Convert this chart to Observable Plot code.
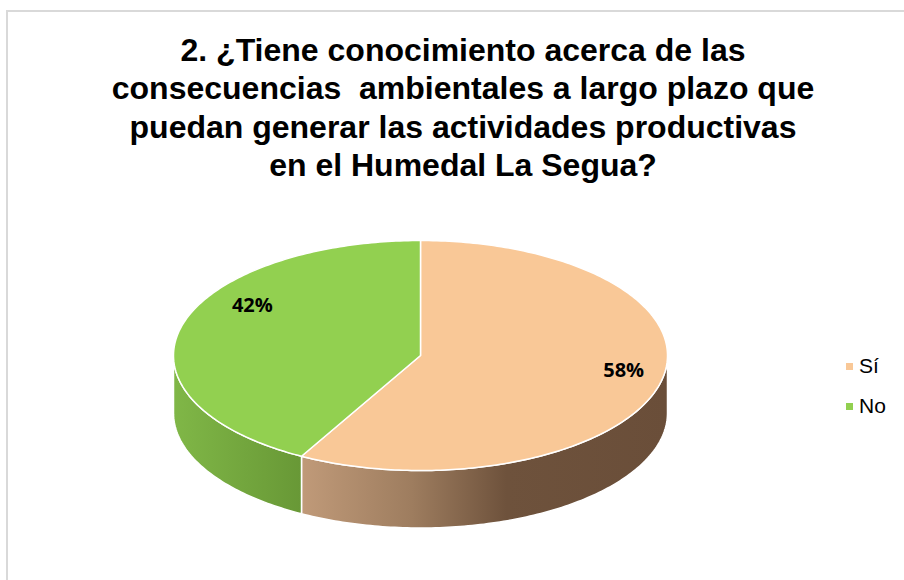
<!DOCTYPE html>
<html>
<head>
<meta charset="utf-8">
<script src="https://cdn.jsdelivr.net/npm/d3@7"></script>
<script src="https://cdn.jsdelivr.net/npm/@observablehq/plot@0.6"></script>
<style>
  body { margin: 0; background: #fff; width: 904px; height: 580px; overflow: hidden; position: relative; }
  #frame { position: absolute; left: 6px; top: 10px; width: 910px; height: 600px; border-top: 2px solid #d9d9d9; border-left: 2px solid #d9d9d9; box-sizing: border-box; }
  #title { position: absolute; left: 0; width: 926px; top: 31px; text-align: center; font-family: "Liberation Sans", Arial, sans-serif; font-weight: bold; font-size: 32px; line-height: 38.3px; color: #000; white-space: pre; }
  #chart { position: absolute; left: 0; top: 0; }
  .leg { position: absolute; left: 846px; font-family: "Liberation Sans", Arial, sans-serif; font-size: 21px; color: #000; }
  .leg .sw { position: absolute; left: 0; width: 7px; height: 7px; }
  .leg .tx { position: absolute; left: 13px; white-space: nowrap; }
</style>
</head>
<body>
<div id="frame"></div>
<div id="chart"></div>
<div id="title"></div>
<div id="legend"></div>
<script>
// ---- data ----
const titleLines = [
  "2. ¿Tiene conocimiento acerca de las",
  "consecuencias  ambientales a largo plazo que",
  "puedan generar las actividades productivas",
  "en el Humedal La Segua?"
];
const categories = ["Sí", "No"];
const values = [58, 42];
const valueLabels = ["58%", "42%"];
// ---- styles ----
const topColors = ["#F9C897", "#92D050"];
const sideStops = [
  [[0, "#C09A79"], [0.3, "#9E7D5F"], [0.56, "#6E523C"], [1, "#6A4E39"]],
  [[0, "#80B747"], [1, "#689836"]]
];

document.getElementById("title").textContent = titleLines.join("\n");

const data = categories.map((c, i) => ({cat: c, value: values[i], label: valueLabels[i]}));
const arcs = d3.pie().sort(null).value(d => d.value)(data);
const depth = 0.5;

function steps(a, b) {
  const n = Math.max(2, Math.ceil((b - a) * 60));
  return d3.range(n + 1).map(i => a + (b - a) * i / n);
}

const tops = arcs.flatMap(p => [
  {cat: p.data.cat, x: 0, y: 0},
  ...steps(p.startAngle, p.endAngle).map(t => ({cat: p.data.cat, x: Math.sin(t), y: Math.cos(t)})),
  {cat: p.data.cat, x: 0, y: 0}
]);

const sides = arcs.flatMap(p => {
  const a = Math.max(p.startAngle, Math.PI / 2), b = Math.min(p.endAngle, 3 * Math.PI / 2);
  if (a >= b) return [];
  const up = steps(a, b).map(t => ({cat: p.data.cat, x: Math.sin(t), y: Math.cos(t)}));
  const down = steps(a, b).reverse().map(t => ({cat: p.data.cat, x: Math.sin(t), y: Math.cos(t) - depth}));
  return [...up, ...down, up[0]];
});

const labelPts = arcs.map(p => {
  const m = (p.startAngle + p.endAngle) / 2;
  return {cat: p.data.cat, label: p.data.label, x: 0.82 * Math.sin(m), y: 0.82 * Math.cos(m)};
});
const labelOffsets = {"Sí": [7, -8], "No": [28, -26]};

const svg = Plot.plot({
  width: 904,
  height: 580,
  margin: 0,
  style: {background: "none", overflow: "visible"},
  x: {domain: [-1, 1], range: [173, 667], axis: null},
  y: {domain: [-1, 1], range: [470, 240], axis: null},
  color: {domain: categories, range: topColors},
  marks: [
    ...categories.map((c, i) => Plot.line(sides.filter(d => d.cat === c), {
      x: "x", y: "y", fill: `url(#side${i})`, stroke: "white", strokeWidth: 1.5, curve: "linear"
    })),
    Plot.line(tops, {x: "x", y: "y", z: "cat", fill: "cat", stroke: "white", strokeWidth: 1.5, curve: "linear"}),
    ...categories.map(c => Plot.text(labelPts.filter(d => d.cat === c), {
      x: "x", y: "y", text: "label", dx: labelOffsets[c][0], dy: labelOffsets[c][1],
      fontFamily: "'Open Sans', sans-serif", fontWeight: 700, fontSize: 20, fill: "black"
    }))
  ]
});

const defs = d3.select(svg).insert("defs", ":first-child");
sideStops.forEach((stops, i) => {
  const g = defs.append("linearGradient").attr("id", `side${i}`)
    .attr("x1", 0).attr("x2", 1).attr("y1", 0).attr("y2", 0);
  stops.forEach(([o, c]) => g.append("stop").attr("offset", o).attr("stop-color", c));
});
document.getElementById("chart").appendChild(svg);

// legend
const leg = document.getElementById("legend");
categories.forEach((c, i) => {
  const row = document.createElement("div");
  row.className = "leg";
  row.style.top = (354 + i * 40) + "px";
  row.innerHTML = `<div class="sw" style="top:9px;background:${topColors[i]}"></div><div class="tx">${c}</div>`;
  leg.appendChild(row);
});
</script>
</body>
</html>
